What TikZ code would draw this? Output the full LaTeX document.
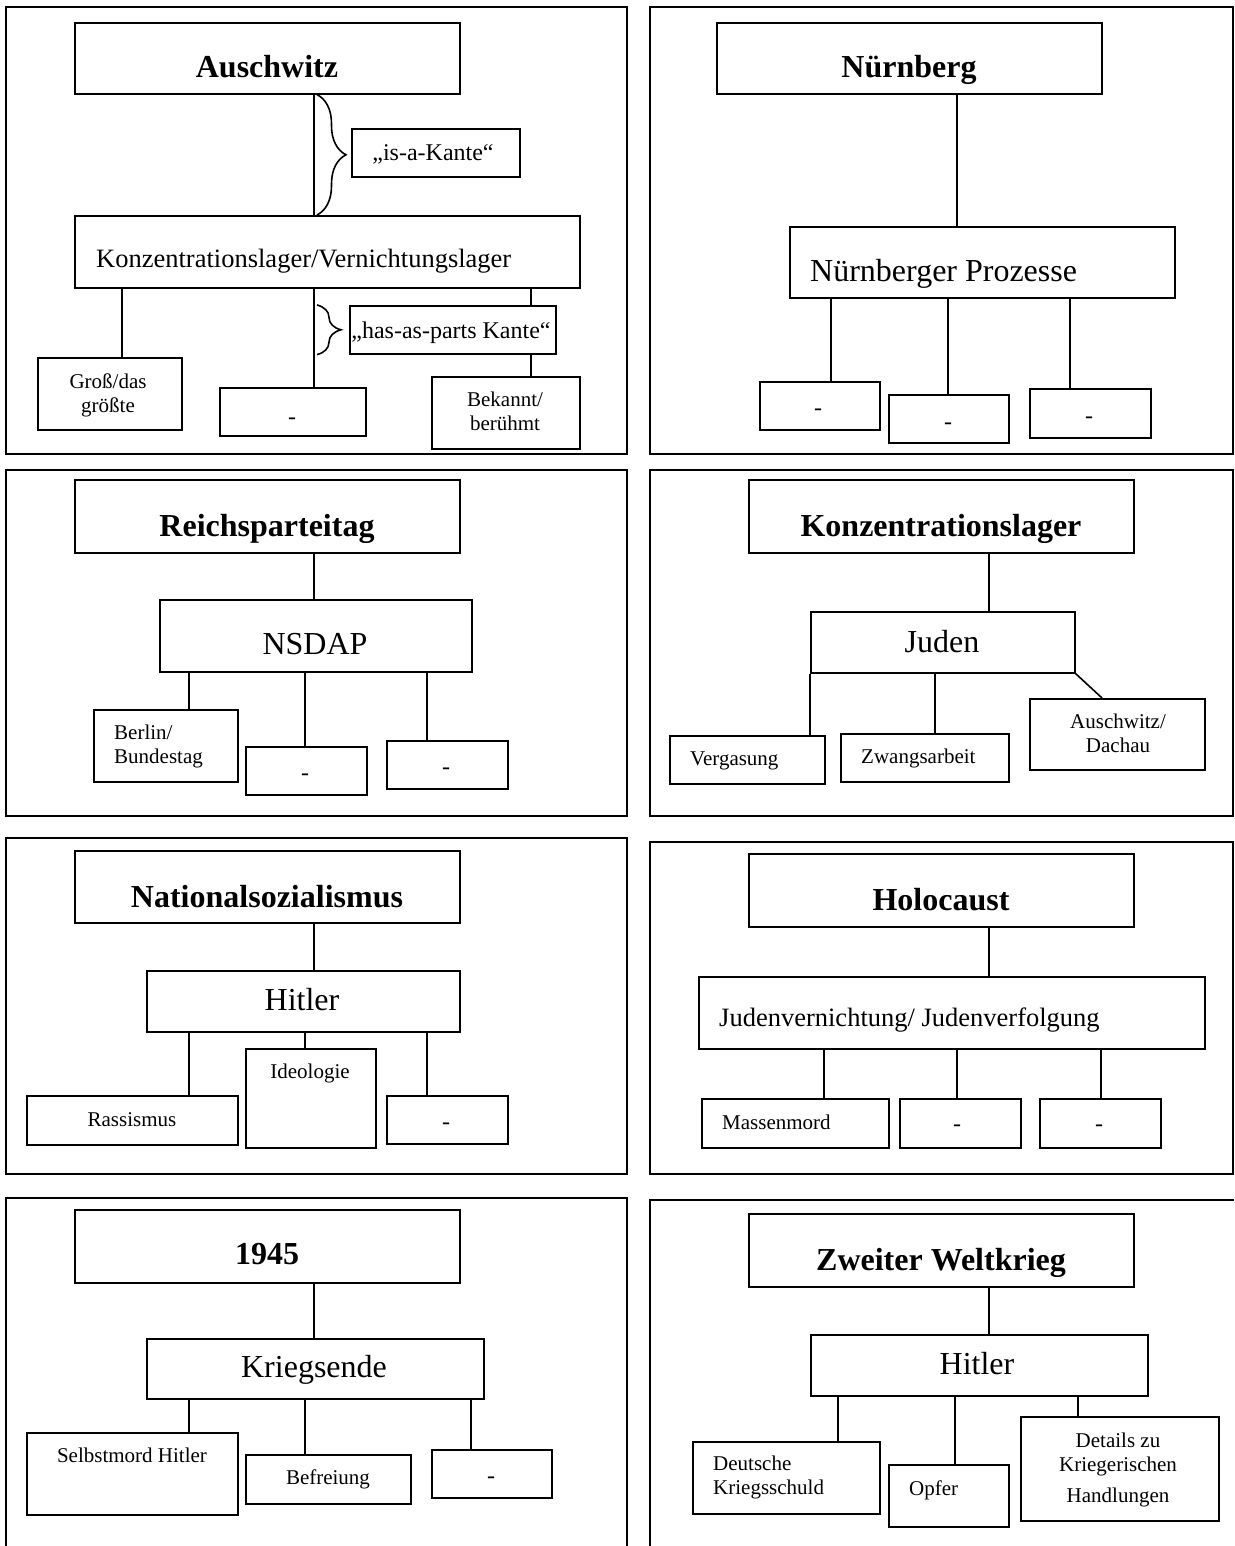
\documentclass[tikz,border=0pt]{standalone}
\usepackage{fontspec}
\setmainfont{Liberation Serif}
\usepackage{tikz}
\usetikzlibrary{decorations.pathreplacing}
\tikzstyle{field} = [rectangle, draw=black, line width=1.6pt, anchor=north west, inner sep=0pt]
\tikzstyle{panel} = [draw=black, line width=2pt]
\tikzstyle{link} = [draw=black, line width=1.6pt]
\tikzstyle{kante} = [draw=black, line width=1.6pt, decorate, decoration={brace, amplitude=29pt}]
\tikzstyle{head} = [font=\fontsize{32}{38}\selectfont\bfseries, anchor=base, inner sep=0pt]
\tikzstyle{sub} = [font=\fontsize{32}{38}\selectfont, anchor=base, inner sep=0pt]
\tikzstyle{longsub} = [font=\fontsize{26.5}{32}\selectfont, anchor=base west, inner sep=0pt]
\tikzstyle{note} = [font=\fontsize{24}{28}\selectfont, anchor=base, inner sep=0pt]
\tikzstyle{leaf} = [font=\fontsize{21}{24}\selectfont, anchor=base, align=center, inner sep=0pt]

\begin{document}
\begin{tikzpicture}[x=1pt, y=-1pt]

        \useasboundingbox (0,0) rectangle (1234,1546);

        \draw[panel] (6,7) rectangle (627,454);
        \node (ausch) [field, minimum width=385pt, minimum height=71pt] at (74,22) {};
        \node (ausch-t) [head] at (267,78) {Auschwitz};
        \node (isa) [field, minimum width=168pt, minimum height=48pt] at (351,128) {};
        \node (isa-t) [note] at (433,161) {„is-a-Kante“};
        \node (kzl) [field, minimum width=505pt, minimum height=72pt] at (74,215) {};
        \node (kzl-t) [longsub] at (96,267) {Konzentrationslager/Vernichtungslager};
        \node (gross) [field, minimum width=144pt, minimum height=72pt] at (37,357) {};
        \node (gross-t) [leaf] at (108,412) {Groß/das\\größte};
        \node (lager2) [field, minimum width=146pt, minimum height=48pt] at (219,387) {};
        \node (lager2-t) [note] at (292,424) {-};
        \node (hasparts) [field, minimum width=206pt, minimum height=48pt] at (349,305) {};
        \node (hasparts-t) [note] at (451,338) {„has-as-parts Kante“};
        \node (bekannt) [field, minimum width=148pt, minimum height=72pt] at (431,376) {};
        \node (bekannt-t) [leaf] at (505,430) {Bekannt/\\berühmt};

        \draw[link] (ausch.south -| 314,0) -- (kzl.north -| 314,0);
        \draw[kante] (ausch.south -| 317,0) -- (kzl.north -| 317,0);
        \draw[link] (kzl.south -| 122,0) -- (gross.north -| 122,0);
        \draw[link] (kzl.south -| 314,0) -- (lager2.north -| 314,0);
        \draw[kante, decoration={brace, amplitude=24pt}] (hasparts.north -| 317,0) -- (hasparts.south -| 317,0);
        \draw[link] (kzl.south -| 531,0) -- (hasparts.north -| 531,0);
        \draw[link] (hasparts.south -| 531,0) -- (bekannt.north -| 531,0);

        \draw[panel] (650,7) rectangle (1233,454);
        \node (nbg) [field, minimum width=385pt, minimum height=71pt] at (716,22) {};
        \node (nbg-t) [head] at (909,78) {Nürnberg};
        \node (proz) [field, minimum width=385pt, minimum height=71pt] at (789,226) {};
        \node (proz-t) [sub, anchor=base west] at (810,281) {Nürnberger Prozesse};
        \node (proz1) [field, minimum width=120pt, minimum height=48pt] at (759,381) {};
        \node (proz1-t) [note] at (818,415) {-};
        \node (proz2) [field, minimum width=120pt, minimum height=48pt] at (888,394) {};
        \node (proz2-t) [note] at (948,429) {-};
        \node (proz3) [field, minimum width=121pt, minimum height=49pt] at (1029,388) {};
        \node (proz3-t) [note] at (1089,423) {-};

        \draw[link] (nbg.south -| 957,0) -- (proz.north -| 957,0);
        \draw[link] (proz.south -| 831,0) -- (proz1.north -| 831,0);
        \draw[link] (proz.south -| 948,0) -- (proz2.north -| 948,0);
        \draw[link] (proz.south -| 1070,0) -- (proz3.north -| 1070,0);

        \draw[panel] (6,470) rectangle (627,816);
        \node (rpt) [field, minimum width=385pt, minimum height=73pt] at (74,479) {};
        \node (rpt-t) [head] at (267,536) {Reichsparteitag};
        \node (nsdap) [field, minimum width=312pt, minimum height=72pt] at (159,599) {};
        \node (nsdap-t) [sub] at (315,654) {NSDAP};
        \node (berlin) [field, minimum width=144pt, minimum height=72pt] at (93,709) {};
        \node (berlin-t) [leaf, align=left, anchor=base west] at (114,763) {Berlin/\\Bundestag};
        \node (nsdap2) [field, minimum width=121pt, minimum height=48pt] at (245,746) {};
        \node (nsdap2-t) [note] at (305,780) {-};
        \node (nsdap3) [field, minimum width=121pt, minimum height=48pt] at (386,740) {};
        \node (nsdap3-t) [note] at (446,774) {-};

        \draw[link] (rpt.south -| 314,0) -- (nsdap.north -| 314,0);
        \draw[link] (nsdap.south -| 189,0) -- (berlin.north -| 189,0);
        \draw[link] (nsdap.south -| 305,0) -- (nsdap2.north -| 305,0);
        \draw[link] (nsdap.south -| 427,0) -- (nsdap3.north -| 427,0);

        \draw[panel] (650,470) rectangle (1233,816);
        \node (kz) [field, minimum width=385pt, minimum height=73pt] at (748,479) {};
        \node (kz-t) [head] at (941,536) {Konzentrationslager};
        \node (juden) [field, minimum width=264pt, minimum height=61pt] at (810,611) {};
        \node (juden-t) [sub] at (942,652) {Juden};
        \node (gas) [field, minimum width=155pt, minimum height=48pt] at (669,735) {};
        \node (gas-t) [leaf, anchor=base west] at (690,765) {Vergasung};
        \node (zwang) [field, minimum width=168pt, minimum height=48pt] at (840,733) {};
        \node (zwang-t) [leaf, anchor=base west] at (861,763) {Zwangsarbeit};
        \node (dachau) [field, minimum width=175pt, minimum height=71pt] at (1029,698) {};
        \node (dachau-t) [leaf] at (1118,752) {Auschwitz/\\Dachau};

        \draw[link] (kz.south -| 989,0) -- (juden.north -| 989,0);
        \draw[link] (juden.south west) -- (gas.north -| juden.south west);
        \draw[link] (juden.south -| 935,0) -- (zwang.north -| 935,0);
        \draw[link] (juden.south east) -- (dachau.north -| 1102,0);

        \draw[panel] (6,838) rectangle (627,1174);
        \node (ns) [field, minimum width=385pt, minimum height=72pt] at (74,850) {};
        \node (ns-t) [head] at (267,907) {Nationalsozialismus};
        \node (hitler) [field, minimum width=313pt, minimum height=61pt] at (146,970) {};
        \node (hitler-t) [sub] at (302,1010) {Hitler};
        \node (rassen) [field, minimum width=211pt, minimum height=49pt] at (26,1095) {};
        \node (rassen-t) [leaf] at (132,1126) {Rassismus};
        \node (ideo) [field, minimum width=130pt, minimum height=99pt] at (245,1048) {};
        \node (ideo-t) [leaf] at (310,1078) {Ideologie};
        \node (hitler3) [field, minimum width=121pt, minimum height=48pt] at (386,1095) {};
        \node (hitler3-t) [note] at (446,1129) {-};

        \draw[link] (ns.south -| 314,0) -- (hitler.north -| 314,0);
        \draw[link] (hitler.south -| 189,0) -- (rassen.north -| 189,0);
        \draw[link] (hitler.south -| 305,0) -- (ideo.north -| 305,0);
        \draw[link] (hitler.south -| 427,0) -- (hitler3.north -| 427,0);

        \draw[panel] (650,842) rectangle (1233,1174);
        \node (holo) [field, minimum width=385pt, minimum height=73pt] at (748,853) {};
        \node (holo-t) [head] at (941,910) {Holocaust};
        \node (verfolg) [field, minimum width=506pt, minimum height=72pt] at (698,976) {};
        \node (verfolg-t) [longsub] at (719,1026) {Judenvernichtung/ Judenverfolgung};
        \node (mord) [field, minimum width=187pt, minimum height=49pt] at (701,1098) {};
        \node (mord-t) [leaf, anchor=base west] at (722,1129) {Massenmord};
        \node (verfolg2) [field, minimum width=121pt, minimum height=49pt] at (899,1098) {};
        \node (verfolg2-t) [note] at (957,1131) {-};
        \node (verfolg3) [field, minimum width=121pt, minimum height=49pt] at (1039,1098) {};
        \node (verfolg3-t) [note] at (1099,1131) {-};

        \draw[link] (holo.south -| 989,0) -- (verfolg.north -| 989,0);
        \draw[link] (verfolg.south -| 824,0) -- (mord.north -| 824,0);
        \draw[link] (verfolg.south -| 957,0) -- (verfolg2.north -| 957,0);
        \draw[link] (verfolg.south -| 1101,0) -- (verfolg3.north -| 1101,0);

        \draw[panel] (6,1546) -- (6,1198) -- (627,1198) -- (627,1546);
        \node (jahr) [field, minimum width=385pt, minimum height=73pt] at (74,1209) {};
        \node (jahr-t) [head] at (267,1264) {1945};
        \node (ende) [field, minimum width=337pt, minimum height=60pt] at (146,1338) {};
        \node (ende-t) [sub] at (314,1377) {Kriegsende};
        \node (suizid) [field, minimum width=211pt, minimum height=82pt] at (26,1432) {};
        \node (suizid-t) [leaf] at (132,1462) {Selbstmord Hitler};
        \node (befrei) [field, minimum width=165pt, minimum height=49pt] at (245,1454) {};
        \node (befrei-t) [leaf] at (328,1484) {Befreiung};
        \node (ende3) [field, minimum width=120pt, minimum height=48pt] at (431,1449) {};
        \node (ende3-t) [note] at (491,1483) {-};

        \draw[link] (jahr.south -| 314,0) -- (ende.north -| 314,0);
        \draw[link] (ende.south -| 189,0) -- (suizid.north -| 189,0);
        \draw[link] (ende.south -| 305,0) -- (befrei.north -| 305,0);
        \draw[link] (ende.south -| 471,0) -- (ende3.north -| 471,0);

        \draw[panel] (650,1546) -- (650,1200) -- (1234,1200);
        \node (krieg) [field, minimum width=385pt, minimum height=73pt] at (748,1213) {};
        \node (krieg-t) [head] at (941,1270) {Zweiter Weltkrieg};
        \node (fuehrer) [field, minimum width=337pt, minimum height=61pt] at (810,1334) {};
        \node (fuehrer-t) [sub] at (977,1374) {Hitler};
        \node (schuld) [field, minimum width=187pt, minimum height=72pt] at (692,1441) {};
        \node (schuld-t) [leaf, align=left, anchor=base west] at (713,1494) {Deutsche\\Kriegsschuld};
        \node (opfer) [field, minimum width=120pt, minimum height=62pt] at (888,1464) {};
        \node (opfer-t) [leaf, anchor=base west] at (909,1495) {Opfer};
        \node (details) [field, minimum width=198pt, minimum height=104pt] at (1020,1416) {};
        \node (details-t) [leaf] at (1118,1502) {Details zu\\Kriegerischen\\[7pt]Handlungen};

        \draw[link] (krieg.south -| 989,0) -- (fuehrer.north -| 989,0);
        \draw[link] (fuehrer.south -| 838,0) -- (schuld.north -| 838,0);
        \draw[link] (fuehrer.south -| 955,0) -- (opfer.north -| 955,0);
        \draw[link] (fuehrer.south -| 1078,0) -- (details.north -| 1078,0);

    \end{tikzpicture}
\end{document}
